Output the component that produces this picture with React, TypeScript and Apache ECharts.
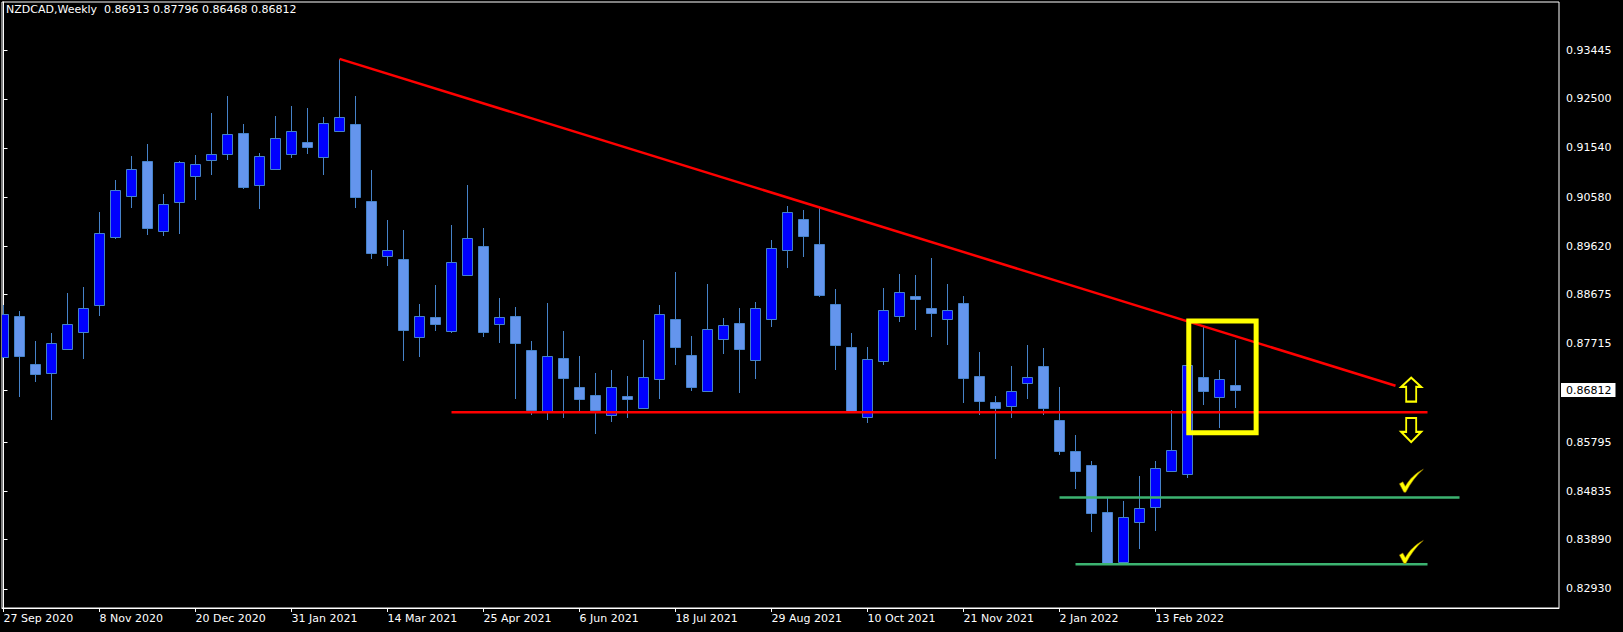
import React, { useEffect, useRef } from "react";
import * as echarts from "echarts";

const FONT = "DejaVu Sans";

// Weekly NZDCAD candles, 27 Sep 2020 .. 20 Mar 2022
const open = [
  0.87455, 0.8825, 0.87329, 0.8714, 0.87613, 0.87951, 0.8847, 0.898, 0.90611, 0.91288,
  0.89926, 0.90477, 0.90989, 0.91296, 0.91414, 0.91831, 0.90824, 0.91138, 0.9143, 0.91658,
  0.91359, 0.91878, 0.92004, 0.90501, 0.89423, 0.89368, 0.87857, 0.88242, 0.87975, 0.89069,
  0.89627, 0.88101, 0.88258, 0.87597, 0.86385, 0.87439, 0.86873, 0.86715, 0.86322, 0.867,
  0.86471, 0.87022, 0.88203, 0.87495, 0.86802, 0.87817, 0.88124, 0.87392, 0.88195, 0.89541,
  0.90155, 0.89667, 0.88494, 0.87652, 0.86283, 0.87377, 0.8825, 0.88644, 0.88407, 0.88195,
  0.8851, 0.87085, 0.86582, 0.86495, 0.86944, 0.87282, 0.86228, 0.85622, 0.85346, 0.84433,
  0.83449, 0.84229, 0.84528, 0.85236, 0.85165, 0.8707, 0.86684, 0.86913,
];
const close = [
  0.88289, 0.87487, 0.87117, 0.87739, 0.88093, 0.88423, 0.89887, 0.90713, 0.91138, 0.89981,
  0.90454, 0.91264, 0.91217, 0.9143, 0.91807, 0.90776, 0.9139, 0.91744, 0.91878, 0.91563,
  0.9202, 0.92138, 0.90587, 0.89494, 0.89557, 0.8799, 0.8825, 0.88108, 0.8932, 0.89777,
  0.87951, 0.88234, 0.87723, 0.86424, 0.87487, 0.87054, 0.86645, 0.86424, 0.86865, 0.86629,
  0.87062, 0.88297, 0.87644, 0.86881, 0.87998, 0.88077, 0.8762, 0.88423, 0.8958, 0.90281,
  0.89824, 0.88675, 0.87699, 0.86401, 0.87416, 0.88384, 0.88722, 0.88589, 0.88313, 0.88384,
  0.87054, 0.86605, 0.86471, 0.86794, 0.8707, 0.86471, 0.85614, 0.85236, 0.84417, 0.83426,
  0.84331, 0.84504, 0.85299, 0.85637, 0.87298, 0.86786, 0.8703, 0.86812,
];
const high = [
  0.8847, 0.88352, 0.87778, 0.87927, 0.88707, 0.88825, 0.90288, 0.9091, 0.91382, 0.91618,
  0.9065, 0.91288, 0.91398, 0.92224, 0.92555, 0.92004, 0.91437, 0.92161, 0.92358, 0.92319,
  0.92146, 0.93279, 0.92555, 0.91107, 0.90131, 0.89934, 0.88494, 0.88864, 0.90037, 0.90816,
  0.89974, 0.88612, 0.88431, 0.87762, 0.8851, 0.87967, 0.87479, 0.87148, 0.87203, 0.87085,
  0.87786, 0.8847, 0.89116, 0.87864, 0.8888, 0.88219, 0.88415, 0.88541, 0.89745, 0.90406,
  0.9032, 0.90367, 0.88785, 0.87927, 0.87644, 0.88801, 0.89076, 0.89061, 0.89391, 0.8888,
  0.88644, 0.87558, 0.867, 0.87282, 0.87691, 0.87636, 0.86873, 0.85936, 0.85433, 0.84701,
  0.84646, 0.85141, 0.85433, 0.86424, 0.87298, 0.88038, 0.87211, 0.87796,
];
const low = [
  0.87439, 0.86668, 0.86975, 0.86235, 0.87597, 0.87424, 0.88266, 0.89769, 0.90367, 0.89848,
  0.89824, 0.89863, 0.90525, 0.91012, 0.91296, 0.90729, 0.90351, 0.91115, 0.91335, 0.9143,
  0.9102, 0.91862, 0.90367, 0.89376, 0.89242, 0.87384, 0.87463, 0.87975, 0.87935, 0.89069,
  0.87857, 0.87723, 0.86629, 0.86322, 0.86235, 0.86275, 0.86401, 0.8596, 0.86188, 0.86275,
  0.86448, 0.86645, 0.87306, 0.86802, 0.86778, 0.87518, 0.86763, 0.8703, 0.88053, 0.89187,
  0.89415, 0.88636, 0.87211, 0.86385, 0.86165, 0.87298, 0.88148, 0.8799, 0.87857, 0.87683,
  0.86558, 0.86322, 0.85472, 0.86275, 0.86637, 0.86322, 0.85535, 0.8489, 0.8404, 0.83426,
  0.83426, 0.83701, 0.84055, 0.85236, 0.85086, 0.86527, 0.86078, 0.86468,
];

// x-axis tick labels (week index -> date)
const tickWeeks = [0, 6, 12, 18, 24, 30, 36, 42, 48, 54, 60, 66, 72];
const tickLabels = [
  "27 Sep 2020", "8 Nov 2020", "20 Dec 2020", "31 Jan 2021", "14 Mar 2021", "25 Apr 2021",
  "6 Jun 2021", "18 Jul 2021", "29 Aug 2021", "10 Oct 2021", "21 Nov 2021", "2 Jan 2022", "13 Feb 2022",
];
// price scale labels
const priceTicks = [
  0.8293, 0.8389, 0.84835, 0.85795, 0.86812, 0.87715, 0.88675, 0.8962, 0.9058, 0.9154, 0.925, 0.93445,
];
const lastPrice = 0.86812;
const titleText = "NZDCAD,Weekly  0.86913 0.87796 0.86468 0.86812";

// drawn objects (week index, price)
const trendLine = [[21, 0.93279], [87, 0.86898]];
const supportLine = [[28, 0.86378], [89, 0.86378]];
const greenUpper = [[66, 0.84717], [91, 0.84717]];
const greenLower = [[67, 0.8341], [89, 0.8341]];
const boxX = [74.08, 78.29];
const boxY = [0.88161, 0.8598];
const upArrowPt = [[87.98, 0.8682]];
const downArrowPt = [[87.98, 0.86033]];
const checkPts = [[87.99, 0.85041], [87.99, 0.83651]];

const X_MIN = -0.09375;
const X_MAX = 97.21875;
const Y_MIN = 0.82557;
const Y_MAX = 0.9439;

const WICK = "#4682C8";
const BULL = "#0000FF";
const BEAR = "#6495ED";

export default function App() {
  const ref = useRef<HTMLDivElement>(null);
  useEffect(() => {
    if (!ref.current) return;
    const chart = echarts.init(ref.current, null, { renderer: "svg" });
    const candles = open.map((o, i) => [i, o, close[i], low[i], high[i]]);
    const box = [
      [boxX[0], boxY[0]], [boxX[1], boxY[0]], [boxX[1], boxY[1]], [boxX[0], boxY[1]], [boxX[0], boxY[0]],
    ];
    const option: any = {
      animation: false,
      backgroundColor: "#000000",
      title: {
        text: titleText,
        left: 6,
        top: 4,
        padding: 0,
        textStyle: { color: "#ffffff", fontSize: 11, fontWeight: "normal", fontFamily: FONT },
      },
      grid: {
        left: 2, top: 2, right: 64, bottom: 24,
        show: true, borderColor: "#ffffff", borderWidth: 1, backgroundColor: "transparent",
        outerBoundsMode: "none",
      },
      xAxis: {
        type: "value", min: X_MIN, max: X_MAX,
        axisLine: { show: true, lineStyle: { color: "#ffffff", width: 1 } },
        axisTick: { show: true, length: 4, customValues: tickWeeks, lineStyle: { color: "#ffffff" } },
        axisLabel: {
          customValues: tickWeeks,
          formatter: (v: number) => {
            const k = tickWeeks.indexOf(Math.round(v));
            return k >= 0 ? tickLabels[k] : "";
          },
          color: "#ffffff", fontSize: 11, fontFamily: FONT, align: "left", margin: 5,
        },
        splitLine: { show: false },
      },
      yAxis: {
        type: "value", position: "right", min: Y_MIN, max: Y_MAX, scale: true,
        axisLine: { show: true, lineStyle: { color: "#ffffff" } },
        axisTick: { show: true, length: 4, customValues: priceTicks, lineStyle: { color: "#ffffff" } },
        axisLabel: {
          customValues: priceTicks,
          margin: 2,
          formatter: (v: number) =>
            Math.abs(v - lastPrice) < 1e-7 ? "{cur|" + v.toFixed(5) + "}" : "{n|" + v.toFixed(5) + "}",
          rich: {
            n: { color: "#ffffff", fontSize: 11, fontFamily: FONT, padding: [0, 0, 0, 5] },
            cur: {
              color: "#000000", backgroundColor: "#ffffff", fontSize: 11, fontFamily: FONT,
              lineHeight: 11, padding: [2, 4, 1, 5],
            },
          },
        },
        splitLine: { show: false },
      },
      series: [
        {
          type: "custom",
          clip: true,
          data: candles,
          encode: { x: 0, y: [1, 2, 3, 4] },
          renderItem: (params: any, api: any) => {
            const i = api.value(0);
            const o = api.value(1);
            const c = api.value(2);
            const l = api.value(3);
            const h = api.value(4);
            const pO = api.coord([i, o]);
            const pC = api.coord([i, c]);
            const pL = api.coord([i, l]);
            const pH = api.coord([i, h]);
            const xc = Math.floor(pO[0]) + 0.5;
            let top = Math.round(Math.min(pO[1], pC[1])) + 0.5;
            let bot = Math.round(Math.max(pO[1], pC[1])) + 0.5;
            if (bot - top < 1) bot = top + 1;
            const bull = c >= o;
            return {
              type: "group",
              children: [
                {
                  type: "line",
                  shape: { x1: xc, y1: Math.round(pH[1]), x2: xc, y2: Math.round(pL[1]) },
                  style: { stroke: WICK, lineWidth: 1 },
                },
                {
                  type: "rect",
                  shape: { x: xc - 5, y: top, width: 10, height: bot - top },
                  style: { fill: bull ? BULL : BEAR, stroke: WICK, lineWidth: 1 },
                },
              ],
            };
          },
          z: 2,
        },
        {
          type: "line", data: trendLine, symbol: "none", silent: true, z: 3,
          lineStyle: { color: "#ff0000", width: 2.5 },
        },
        {
          type: "line", data: supportLine, symbol: "none", silent: true, z: 3,
          lineStyle: { color: "#ff0000", width: 2.5 },
        },
        {
          type: "line", data: greenUpper, symbol: "none", silent: true, z: 3,
          lineStyle: { color: "#3CB371", width: 2.5 },
        },
        {
          type: "line", data: greenLower, symbol: "none", silent: true, z: 3,
          lineStyle: { color: "#3CB371", width: 2.5 },
        },
        {
          type: "line", data: box, symbol: "none", silent: true, z: 4,
          lineStyle: { color: "#ffff00", width: 5, join: "miter", cap: "square" },
        },
        {
          type: "scatter", data: upArrowPt, silent: true, z: 5,
          symbol: "path://M11 0 L22 10 L16.5 10 L16.5 26 L5.5 26 L5.5 10 L0 10 Z",
          symbolSize: [20, 24],
          itemStyle: { color: "#000000", borderColor: "#ffff00", borderWidth: 2, opacity: 1 },
        },
        {
          type: "scatter", data: downArrowPt, silent: true, z: 5,
          symbol: "path://M5.5 0 L16.5 0 L16.5 15 L22 15 L11 26 L0 15 L5.5 15 Z",
          symbolSize: [20, 24],
          itemStyle: { color: "#000000", borderColor: "#ffff00", borderWidth: 2, opacity: 1 },
        },
        {
          type: "scatter", data: checkPts, silent: true, z: 5,
          symbol: "path://M0 14.5 L3.5 12.5 L6 17 C10 10 16 4 24 0 C17 6 11 14 6.5 23 L4.5 23 Z",
          symbolSize: [24, 23],
          itemStyle: { color: "#ffff00", borderColor: "#8a6a00", borderWidth: 0.6, opacity: 1 },
        },
      ],
    };
    chart.setOption(option);
    return () => chart.dispose();
  }, []);
  return (
    <div
      ref={ref}
      style={{ position: "fixed", left: 0, top: 0, width: 1623, height: 632, background: "#000" }}
    />
  );
}
